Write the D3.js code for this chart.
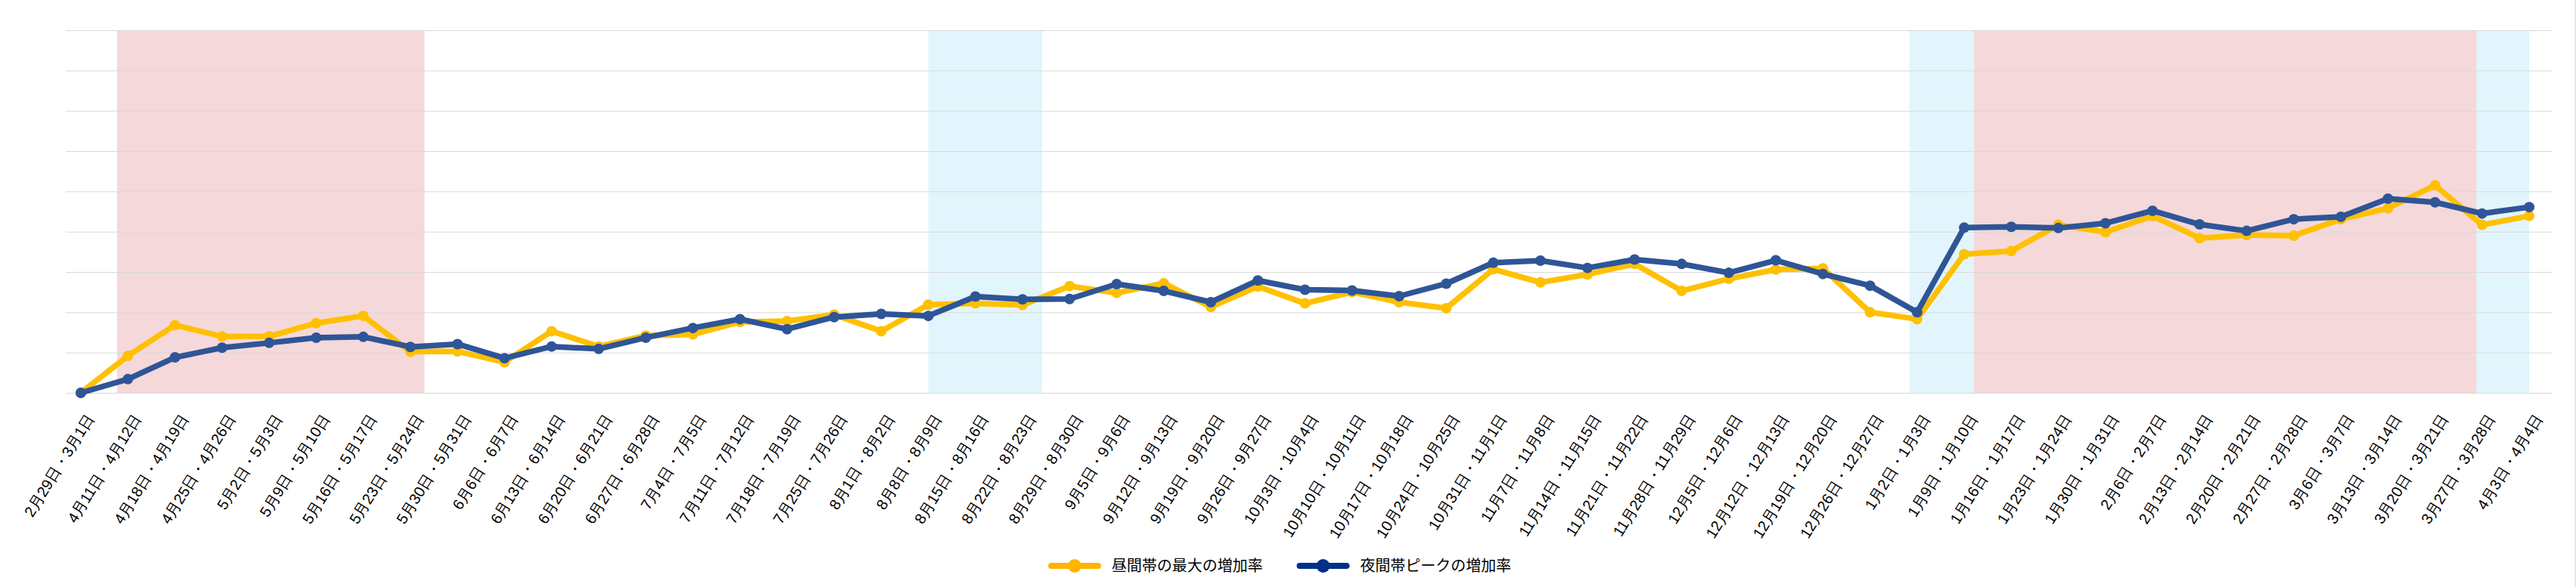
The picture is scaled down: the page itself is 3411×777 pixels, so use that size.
<!DOCTYPE html>
<html>
<head>
<meta charset="utf-8">
<script src="https://cdn.jsdelivr.net/npm/d3@7"></script>
<style>
  body { margin: 0; background: #fff; }
  svg { display: block; }
</style>
</head>
<body>
<div id="chart"></div>
<script>
// 週末（土・日）ごとの増加率
const categories = [
  "2月29日・3月1日", "4月11日・4月12日", "4月18日・4月19日", "4月25日・4月26日",
  "5月2日・5月3日", "5月9日・5月10日", "5月16日・5月17日", "5月23日・5月24日",
  "5月30日・5月31日", "6月6日・6月7日", "6月13日・6月14日", "6月20日・6月21日",
  "6月27日・6月28日", "7月4日・7月5日", "7月11日・7月12日", "7月18日・7月19日",
  "7月25日・7月26日", "8月1日・8月2日", "8月8日・8月9日", "8月15日・8月16日",
  "8月22日・8月23日", "8月29日・8月30日", "9月5日・9月6日", "9月12日・9月13日",
  "9月19日・9月20日", "9月26日・9月27日", "10月3日・10月4日", "10月10日・10月11日",
  "10月17日・10月18日", "10月24日・10月25日", "10月31日・11月1日", "11月7日・11月8日",
  "11月14日・11月15日", "11月21日・11月22日", "11月28日・11月29日", "12月5日・12月6日",
  "12月12日・12月13日", "12月19日・12月20日", "12月26日・12月27日", "1月2日・1月3日",
  "1月9日・1月10日", "1月16日・1月17日", "1月23日・1月24日", "1月30日・1月31日",
  "2月6日・2月7日", "2月13日・2月14日", "2月20日・2月21日", "2月27日・2月28日",
  "3月6日・3月7日", "3月13日・3月14日", "3月20日・3月21日", "3月27日・3月28日",
  "4月3日・4月4日"
];

const dayMax = [
  0, 0.92, 1.68, 1.40, 1.40, 1.73, 1.91, 1.02, 1.03, 0.76,
  1.53, 1.15, 1.42, 1.45, 1.76, 1.78, 1.94, 1.53, 2.19, 2.22,
  2.18, 2.65, 2.48, 2.72, 2.13, 2.64, 2.22, 2.50, 2.25, 2.10,
  3.07, 2.74, 2.94, 3.20, 2.53, 2.83, 3.06, 3.09, 2.00, 1.83,
  3.44, 3.52, 4.17, 3.99, 4.39, 3.84, 3.92, 3.90, 4.31, 4.58,
  5.15, 4.17, 4.39
];

const nightPeak = [
  0, 0.34, 0.88, 1.12, 1.24, 1.37, 1.39, 1.14, 1.21, 0.86,
  1.15, 1.09, 1.37, 1.61, 1.83, 1.58, 1.88, 1.96, 1.91, 2.39,
  2.32, 2.33, 2.70, 2.53, 2.25, 2.79, 2.56, 2.54, 2.40, 2.71,
  3.23, 3.28, 3.10, 3.31, 3.20, 2.98, 3.29, 2.95, 2.66, 2.00,
  4.10, 4.12, 4.09, 4.21, 4.52, 4.18, 4.02, 4.31, 4.37, 4.82,
  4.73, 4.45, 4.61
];

const seriesNames = ["昼間帯の最大の増加率", "夜間帯ピークの増加率"];

// 背景の期間（カテゴリ位置、端数あり）
const bandFrom = [0.77, 18.0, 38.84, 40.21, 50.88];
const bandTo   = [7.30, 20.42, 40.21, 50.88, 52.0];
const bandKind = ["red", "blue", "blue", "red", "blue"];

const yTicks = [0, 1, 2, 3, 4, 5, 6, 7, 8, 9];

const fullWidth = 3411, fullHeight = 777;
const margin = { top: 40, right: 31, bottom: 257, left: 87 };
const width = fullWidth - margin.left - margin.right;
const height = fullHeight - margin.top - margin.bottom;

const colors = { day: "#FFC000", night: "#2F5597" };
const legendColors = ["#FFB400", "#003087"];
const bandColors = { red: "#F5D8DA", blue: "#E2F5FC" };

const svg = d3.select("#chart")
  .append("svg")
  .attr("width", fullWidth)
  .attr("height", fullHeight)
  .style("font-family", "'Noto Sans CJK JP', 'Noto Sans', sans-serif");

const g = svg.append("g")
  .attr("transform", `translate(${margin.left},${margin.top})`);

let x = d3.scalePoint()
  .domain(categories)
  .range([20, width - 31]);

// 端数の位置用
let xi = d3.scaleLinear()
  .domain([0, categories.length - 1])
  .range([x(categories[0]), x(categories[categories.length - 1])]);

let y = d3.scaleLinear()
  .domain([0, 9])
  .range([height, 0]);

// 背景帯
g.selectAll(".band")
  .data(bandFrom.map((f, i) => ({ from: f, to: bandTo[i], kind: bandKind[i] })))
  .enter()
  .append("rect")
  .attr("class", "band")
  .attr("x", d => xi(d.from))
  .attr("y", y(9))
  .attr("width", d => xi(d.to) - xi(d.from))
  .attr("height", y(0) - y(9))
  .attr("fill", d => bandColors[d.kind]);

// 目盛線
g.append("g")
  .call(d3.axisLeft(y).tickValues(yTicks).tickSize(-width).tickFormat(""))
  .call(s => s.select(".domain").remove())
  .selectAll("line")
  .style("stroke", "#D9D9D9")
  .style("stroke-width", 1);

// X軸ラベル
g.append("g")
  .attr("transform", `translate(0,${height})`)
  .call(d3.axisBottom(x).tickSize(0).tickPadding(0))
  .call(s => s.select(".domain").remove())
  .selectAll("text")
  .style("font-size", "20px")
  .style("fill", "#000")
  .style("text-anchor", "end")
  .attr("dy", "0.35em")
  .attr("transform", "translate(12,30) rotate(-58)");

const lineGen = d3.line()
  .x((d, i) => x(categories[i]))
  .y(d => y(d));

function drawSeries(values, color) {
  g.append("path")
    .datum(values)
    .attr("fill", "none")
    .attr("stroke", color)
    .attr("stroke-width", 7.5)
    .attr("stroke-linejoin", "round")
    .attr("d", lineGen);

  g.append("g")
    .selectAll("circle")
    .data(values)
    .enter()
    .append("circle")
    .attr("cx", (d, i) => x(categories[i]))
    .attr("cy", d => y(d))
    .attr("r", 7)
    .attr("fill", color);
}

drawSeries(dayMax, colors.day);
drawSeries(nightPeak, colors.night);

// 凡例
const legend = svg.append("g")
  .attr("transform", `translate(1388,749)`);

const legendItems = legend.selectAll(".item")
  .data(seriesNames)
  .enter()
  .append("g")
  .attr("class", "item")
  .attr("transform", (d, i) => `translate(${i * 329},0)`);

legendItems.append("line")
  .attr("x1", 4).attr("x2", 66)
  .attr("y1", 0).attr("y2", 0)
  .attr("stroke", (d, i) => legendColors[i])
  .attr("stroke-width", 8)
  .attr("stroke-linecap", "round");

legendItems.append("circle")
  .attr("cx", 35).attr("cy", 0)
  .attr("r", 9)
  .attr("fill", (d, i) => legendColors[i]);

legendItems.append("text")
  .attr("x", 84)
  .attr("y", 0)
  .attr("dy", "0.35em")
  .style("font-size", "20px")
  .style("fill", "#000")
  .text(d => d);

// 右端の枠線
svg.append("line")
  .attr("x1", fullWidth - 1).attr("x2", fullWidth - 1)
  .attr("y1", 0).attr("y2", fullHeight)
  .attr("stroke", "#EEDADC")
  .attr("stroke-width", 1.5);
</script>
</body>
</html>
